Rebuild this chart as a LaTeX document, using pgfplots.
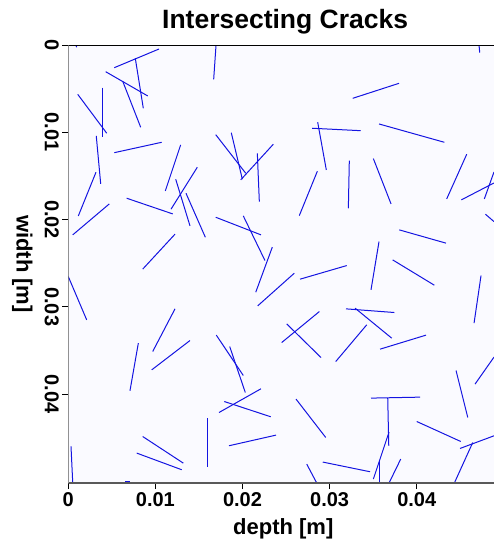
\documentclass[border=0pt]{standalone}
\usepackage{pgfplots}
\pgfplotsset{compat=1.18}
\usepackage{fontspec}
\setmainfont{Liberation Sans}
\definecolor{crack}{RGB}{20,20,225}
\definecolor{bgc}{RGB}{250,250,255}
\begin{document}
\begin{tikzpicture}
\begin{axis}[
  scale only axis, width=425.7pt, height=438pt,
  xmin=0, xmax=0.04887, ymin=0, ymax=0.0502,
  y dir=reverse,
  scaled ticks=false,
  axis background/.style={fill=bgc},
  axis line style={draw=none},
  xtick={0,0.01,0.02,0.03,0.04}, xticklabels={0,0.01,0.02,0.03,0.04},
  ytick={0,0.01,0.02,0.03,0.04}, yticklabels={0,0.01,0.02,0.03,0.04},
  tick align=outside, major tick length=6pt,
  every tick/.style={black, line width=0.8pt},
  xtick pos=left, ytick pos=left,
  xticklabel pos=left,
  tick label style={font=\fontsize{20}{24}\selectfont\bfseries},
  /pgf/number format/assume math mode=true,
  yticklabel style={rotate=-90, anchor=north},
  xlabel={depth [m]}, ylabel={width [m]},
  label style={font=\fontsize{22}{26}\selectfont\bfseries},
  ylabel style={at={(axis description cs:-0.108,0.5)}, rotate=180, anchor=center},
  xlabel style={at={(axis description cs:0.505,-0.073)}, anchor=north},
  title={Intersecting Cracks},
  title style={font=\fontsize{26.5}{30}\selectfont\bfseries, anchor=south, yshift=1pt, xshift=4pt},
  clip=true,
  cycle list={{crack, line width=1pt}},
]
\pgfplotsset{every axis plot/.append style={crack, line width=1pt}}
\addplot coordinates {(0.00088,0) (0.00096,0.00026)};
\addplot coordinates {(0.00528,0.00260) (0.01041,0.00046)};
\addplot coordinates {(0.00769,0.00152) (0.00861,0.00725)};
\addplot coordinates {(0.00429,0.00306) (0.00912,0.00584)};
\addplot coordinates {(0.00625,0.00416) (0.00831,0.00943)};
\addplot coordinates {(0.00390,0.00489) (0.00390,0.01057)};
\addplot coordinates {(0.00108,0.00565) (0.00441,0.01011)};
\addplot coordinates {(0.00321,0.01042) (0.00372,0.01592)};
\addplot coordinates {(0.00528,0.01234) (0.01072,0.01115)};
\addplot coordinates {(0.00318,0.01458) (0.00115,0.01959)};
\addplot coordinates {(0.01290,0.01145) (0.01114,0.01672)};
\addplot coordinates {(0.01233,0.01538) (0.01397,0.02073)};
\addplot coordinates {(0.01481,0.01401) (0.01179,0.01882)};
\addplot coordinates {(0.00670,0.01756) (0.01199,0.01936)};
\addplot coordinates {(0.00471,0.01821) (0.00051,0.02176)};
\addplot coordinates {(0.01351,0.01699) (0.01573,0.02203)};
\addplot coordinates {(0.01225,0.02168) (0.00854,0.02569)};
\addplot coordinates {(0,0.02654) (0.00211,0.03150)};
\addplot coordinates {(0.01225,0.03024) (0.00969,0.03513)};
\addplot coordinates {(0.01696,0) (0.01669,0.00393)};
\addplot coordinates {(0.01692,0.01027) (0.02037,0.01470)};
\addplot coordinates {(0.01871,0.01005) (0.01998,0.01538)};
\addplot coordinates {(0.02354,0.01137) (0.01979,0.01546)};
\addplot coordinates {(0.02170,0.01241) (0.02193,0.01795)};
\addplot coordinates {(0.02798,0.00954) (0.03357,0.00982)};
\addplot coordinates {(0.02863,0.00885) (0.02962,0.01432)};
\addplot coordinates {(0.03226,0.01325) (0.03215,0.01871)};
\addplot coordinates {(0.02859,0.01447) (0.02652,0.01955)};
\addplot coordinates {(0.04715,0) (0.04723,0.00088)};
\addplot coordinates {(0.03265,0.00611) (0.03797,0.00439)};
\addplot coordinates {(0.03567,0.00905) (0.04317,0.01115)};
\addplot coordinates {(0.03502,0.01302) (0.03705,0.01821)};
\addplot coordinates {(0.04574,0.01252) (0.04344,0.01764)};
\addplot coordinates {(0.04512,0.01775) (0.04887,0.01581)};
\addplot coordinates {(0.04776,0.01764) (0.04887,0.01455)};
\addplot coordinates {(0.04788,0.01939) (0.04887,0.02024)};
\addplot coordinates {(0.01692,0.01974) (0.02212,0.02176)};
\addplot coordinates {(0.02009,0.01959) (0.02258,0.02471)};
\addplot coordinates {(0.02342,0.02317) (0.02152,0.02833)};
\addplot coordinates {(0.02595,0.02615) (0.02174,0.02990)};
\addplot coordinates {(0.02660,0.02684) (0.03196,0.02528)};
\addplot coordinates {(0.02882,0.03055) (0.02450,0.03410)};
\addplot coordinates {(0.02507,0.03196) (0.02901,0.03582)};
\addplot coordinates {(0.03800,0.02119) (0.04336,0.02271)};
\addplot coordinates {(0.03567,0.02253) (0.03475,0.02806)};
\addplot coordinates {(0.03724,0.02463) (0.04202,0.02753)};
\addplot coordinates {(0.04738,0.02643) (0.04658,0.03188)};
\addplot coordinates {(0.03188,0.03024) (0.03743,0.03066)};
\addplot coordinates {(0.03292,0.03016) (0.03713,0.03360)};
\addplot coordinates {(0.03426,0.03207) (0.03070,0.03628)};
\addplot coordinates {(0.03579,0.03486) (0.04107,0.03325)};
\addplot coordinates {(0.04887,0.03577) (0.04669,0.03887)};
\addplot coordinates {(0.04451,0.03731) (0.04586,0.04269)};
\addplot coordinates {(0.03475,0.04047) (0.04038,0.04036)};
\addplot coordinates {(0.03667,0.04047) (0.03679,0.04593)};
\addplot coordinates {(0.04000,0.04315) (0.04505,0.04544)};
\addplot coordinates {(0.02921,0.04780) (0.03464,0.04891)};
\addplot coordinates {(0.03682,0.04436) (0.03502,0.04975)};
\addplot coordinates {(0.03567,0.04773) (0.03567,0.05020)};
\addplot coordinates {(0.03816,0.04746) (0.03682,0.05020)};
\addplot coordinates {(0.04497,0.04624) (0.04887,0.04479)};
\addplot coordinates {(0.04643,0.04556) (0.04432,0.05020)};
\addplot coordinates {(0.01699,0.03325) (0.02009,0.03788)};
\addplot coordinates {(0.01853,0.03456) (0.02032,0.03983)};
\addplot coordinates {(0.02212,0.03940) (0.01730,0.04212)};
\addplot coordinates {(0.01791,0.04086) (0.02324,0.04261)};
\addplot coordinates {(0.01600,0.04276) (0.01600,0.04837)};
\addplot coordinates {(0.01845,0.04593) (0.02385,0.04471)};
\addplot coordinates {(0.02614,0.04058) (0.02955,0.04498)};
\addplot coordinates {(0.02737,0.04803) (0.02852,0.05020)};
\addplot coordinates {(0.00804,0.03417) (0.00708,0.03963)};
\addplot coordinates {(0.01397,0.03387) (0.00958,0.03723)};
\addplot coordinates {(0.00854,0.04487) (0.01320,0.04792)};
\addplot coordinates {(0.00785,0.04677) (0.01302,0.04868)};
\addplot coordinates {(0.00031,0.04601) (0.00051,0.05020)};
\addplot coordinates {(0.00651,0.04998) (0.00708,0.04998)};
\draw[black, line width=1.2pt] (axis description cs:0,1) -- (axis description cs:1,1);
\draw[gray!70!black, line width=1.2pt] (axis description cs:0,1) -- (axis description cs:0,0) -- (axis description cs:1,0);
\end{axis}
\pgfresetboundingbox
\useasboundingbox (-68.3pt,-56pt) rectangle (425.7pt,483pt);
\end{tikzpicture}
\end{document}
